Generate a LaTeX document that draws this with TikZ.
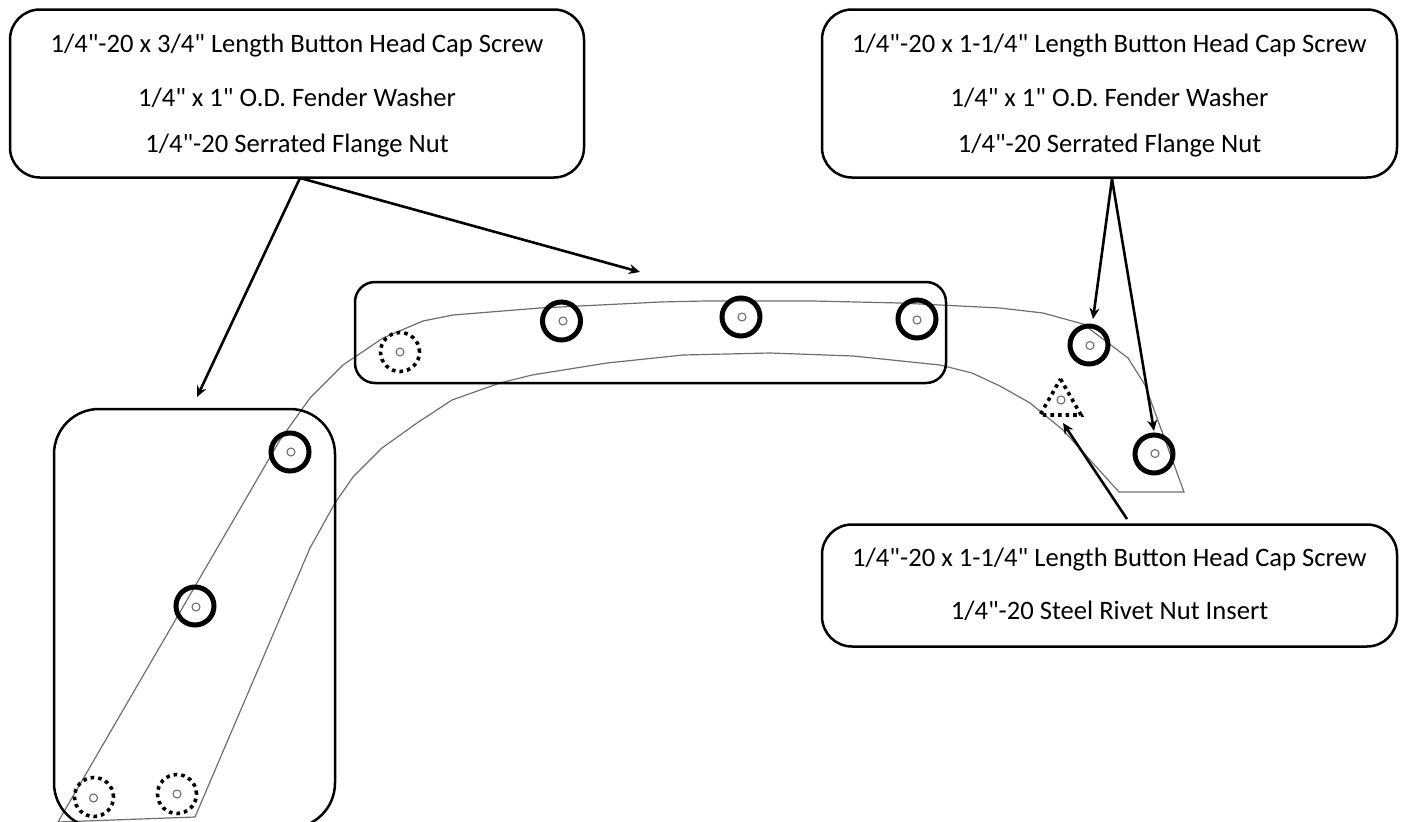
\documentclass[tikz,border=0pt]{standalone}
\usepackage{fontspec}
\setmainfont{Carlito}[Ligatures=TeXOff]
\usetikzlibrary{
	arrows.meta
}
\definecolor{BracketGray}{HTML}{6E6E6E}
\tikzset{
	Part-Box/.style={rectangle,draw,line width=2.5pt,rounded corners=30pt,inner sep=0pt},
	Group-Box/.style={rectangle,draw,line width=2.5pt,inner sep=0pt},
	Part-Text/.style={inner sep=0pt,anchor=base,font=\fontsize{26.6}{30}\selectfont},
	Part-Arrow/.style={-{Stealth[length=11pt,width=10pt]},line width=2.6pt},
	Bolt-Ring/.style={circle,draw,line width=5pt,minimum size=38pt,inner sep=0pt},
	Bolt-Dots/.style={circle,draw,line width=3.6pt,dash pattern=on 3.6pt off 4pt,minimum size=39pt,inner sep=0pt},
	Bolt-Hole/.style={circle,draw=BracketGray,line width=1.1pt,minimum size=8pt,inner sep=0pt}
}

\begin{document}
\begin{tikzpicture}[x=1pt,y=-1pt]
	\clip (0,0) rectangle (1401,822);
	% bracket outline
	\draw [BracketGray,line width=1.2pt] (58,822) -- (280,440) -- (310,398) -- (343,365) -- (383,338)
		-- (423,321) -- (453,315) -- (540,308) -- (660,302) -- (705,301) -- (813,301) -- (900,303)
		-- (1000,308) -- (1043,313) -- (1083,324) -- (1128,358) -- (1145,385) -- (1184,492)
		-- (1119,492) -- (1063,430) -- (1030,403) -- (1000,386) -- (972,373) -- (940,365)
		-- (853,356) -- (770,353) -- (683,355) -- (607,363) -- (532,375) -- (500,383)
		-- (452,400) -- (417,423) -- (382,448) -- (353,477) -- (335,503) -- (310,548) -- (195,817) -- cycle;
	% Marked groups
	\node [Group-Box,rounded corners=20pt,minimum width=591pt,minimum height=101pt] (groupTop) at (650.5,332.5) {};
	\node [Group-Box,rounded corners=45pt,minimum width=281pt,minimum height=419pt] (groupLeft) at (194.5,618.5) {};
	% Bolts
	\foreach \x/\y/\n in {290/452/a,195/606/b,561.5/321/c,741/317/d,917/319/e,1089/345/f,1154/454/g} {
		\node [Bolt-Ring] (ring\n) at (\x,\y) {};
	}
	\foreach \x/\y/\n in {94/797/a,177/794/b,400/352/c} {
		\node [Bolt-Dots] (dots\n) at (\x,\y) {};
	}
	\foreach \x/\y/\n in {291/452/a,196/607/b,563/321/c,742/317/d,917/320/e,1090/345.5/f,1155/453.5/g,93.5/798/h,177/794/i,400/352/j,1061/400/k} {
		\node [Bolt-Hole] (hole\n) at (\x,\y) {};
	}
	% Rivet nut
	\draw [line width=3.6pt,dash pattern=on 3.6pt off 4pt] (1060.5,379) -- (1081,415) -- (1040,415) -- cycle;
	% Left box
	\node [Part-Box,minimum width=574pt,minimum height=168pt] (boxA) at (297,93.5) {};
	\node [Part-Text] (screwA) at (297,52) {1/4"-20 x 3/4" Length Button Head Cap Screw};
	\node [Part-Text] (washerA) at (297,106) {1/4" x 1" O.D. Fender Washer};
	\node [Part-Text] (nutA) at (297,152) {1/4"-20 Serrated Flange Nut};
	% Right box
	\node [Part-Box,minimum width=575pt,minimum height=168pt] (boxB) at (1109.5,93.5) {};
	\node [Part-Text] (screwB) at (1109.5,52) {1/4"-20 x 1-1/4" Length Button Head Cap Screw};
	\node [Part-Text] (washerB) at (1109.5,106) {1/4" x 1" O.D. Fender Washer};
	\node [Part-Text] (nutB) at (1109.5,152) {1/4"-20 Serrated Flange Nut};
	% Lower box
	\node [Part-Box,minimum width=575pt,minimum height=122pt] (boxC) at (1109.5,585.5) {};
	\node [Part-Text] (screwC) at (1109.5,566) {1/4"-20 x 1-1/4" Length Button Head Cap Screw};
	\node [Part-Text] (rivetC) at (1109.5,619) {1/4"-20 Steel Rivet Nut Insert};
	% Arrows
	\coordinate (startA) at (300,178);
	\coordinate (startB) at (1112,179);
	\coordinate (startC) at (1127,519);
	\coordinate (tipLeft) at (197,397);
	\coordinate (tipTop) at (640,272);
	\coordinate (tipF) at (1093,319);
	\coordinate (tipG) at (1154,431);
	\coordinate (tipRivet) at (1063,423);
	\draw [Part-Arrow] (startA) -- (tipLeft);
	\draw [Part-Arrow] (startA) -- (tipTop);
	\draw [Part-Arrow] (startB) -- (tipF);
	\draw [Part-Arrow] (startB) -- (tipG);
	\draw [Part-Arrow] (startC) -- (tipRivet);
\end{tikzpicture}
\end{document}
